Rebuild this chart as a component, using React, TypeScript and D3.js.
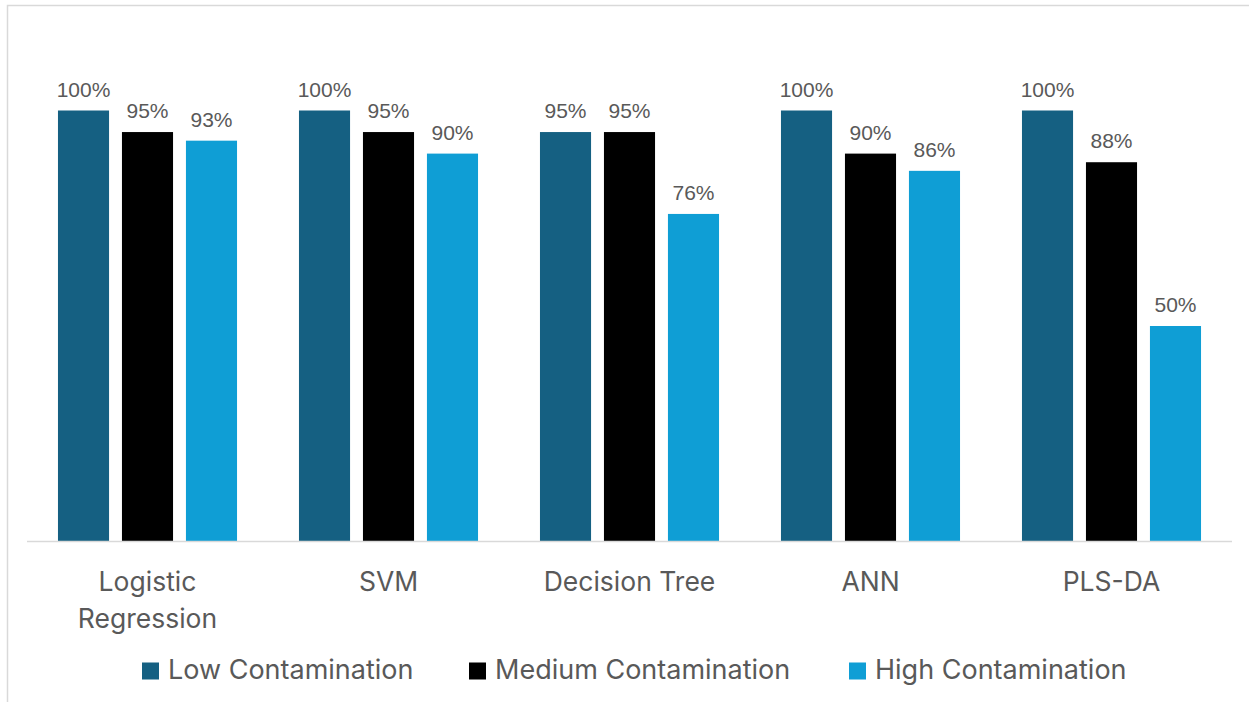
import React from "react";
import * as d3 from "d3";

const categories = ["Logistic Regression", "SVM", "Decision Tree", "ANN", "PLS-DA"];
const series = ["Low Contamination", "Medium Contamination", "High Contamination"];
const lowValues = [1.0, 1.0, 0.95, 1.0, 1.0];
const mediumValues = [0.95, 0.95, 0.95, 0.9, 0.88];
const highValues = [0.93, 0.9, 0.76, 0.86, 0.5];
const colors = ["#156082", "#000000", "#0f9ed5"];

const W = 1249;
const H = 702;
const plotLeft = 27;
const plotRight = 1232;
const baseY = 541.5;
const topY = 110.5;
const labelColor = "#595959";
const catFont = "Inter, Lato, sans-serif";
const numFont = "'Liberation Sans', Arial, sans-serif";

// legend item positions (x of square)
const legendX = [142, 469, 849];

export default function App() {
  const values = [lowValues, mediumValues, highValues];

  const x0 = d3
    .scaleBand<string>()
    .domain(categories)
    .range([plotLeft, plotRight])
    .paddingInner(0.257)
    .paddingOuter(0.1285);

  const x1 = d3
    .scaleBand<string>()
    .domain(series)
    .range([0, x0.bandwidth()])
    .paddingInner(0.2016);

  const y = d3.scaleLinear().domain([0, 1]).range([baseY, topY]);
  const fmt = d3.format(".0%");

  return (
    <svg
      width={W}
      height={H}
      style={{ position: "absolute", left: 0, top: 0, background: "#fff" }}
    >
      <rect x={7.5} y={5.5} width={1260} height={720} fill="#fff" stroke="#d9d9d9" strokeWidth={1.5} />

      {categories.map((c, i) => (
        <g key={c} transform={`translate(${x0(c)},0)`}>
          {series.map((s, j) => {
            const v = values[j][i];
            return (
              <g key={s}>
                <rect
                  x={x1(s)}
                  y={y(v)}
                  width={x1.bandwidth()}
                  height={baseY - y(v)}
                  fill={colors[j]}
                />
                <text
                  x={(x1(s) || 0) + x1.bandwidth() / 2}
                  y={y(v) - 14}
                  textAnchor="middle"
                  fontFamily={numFont}
                  fontSize={21}
                  fill={labelColor}
                >
                  {fmt(v)}
                </text>
              </g>
            );
          })}
        </g>
      ))}

      <line x1={plotLeft} x2={plotRight} y1={baseY} y2={baseY} stroke="#d9d9d9" strokeWidth={1.5} />

      {categories.map((c) => {
        const cx = (x0(c) || 0) + x0.bandwidth() / 2;
        const words = c === "Logistic Regression" ? ["Logistic", "Regression"] : [c];
        return (
          <text
            key={c}
            x={cx}
            y={590.5}
            textAnchor="middle"
            fontFamily={catFont}
            fontSize={26.5}
            fill={labelColor}
          >
            {words.map((w, k) => (
              <tspan key={w} x={cx} dy={k === 0 ? 0 : 37}>
                {w}
              </tspan>
            ))}
          </text>
        );
      })}

      {series.map((s, j) => (
        <g key={s} transform={`translate(${legendX[j]},0)`}>
          <rect x={0} y={662.5} width={17} height={17} fill={colors[j]} />
          <text x={26} y={679.3} fontFamily={catFont} fontSize={27} fill={labelColor}>
            {s}
          </text>
        </g>
      ))}
    </svg>
  );
}
